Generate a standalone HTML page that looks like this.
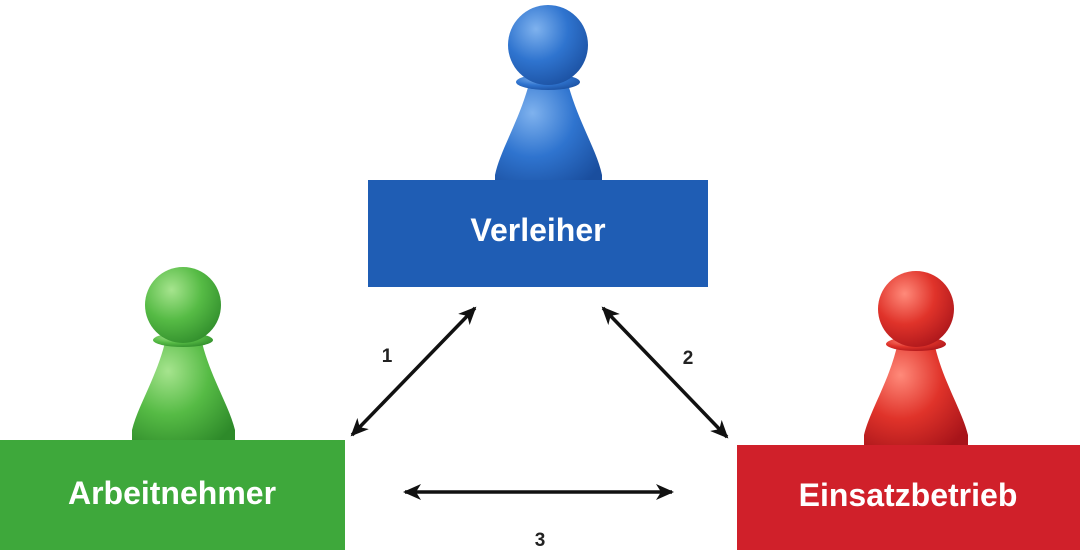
<!DOCTYPE html>
<html><head><meta charset="utf-8"><style>
html,body{margin:0;padding:0;background:#fff;width:1080px;height:550px;overflow:hidden}
svg{display:block}
text{font-family:"Liberation Sans","DejaVu Sans",sans-serif;font-weight:bold}
</style></head><body>
<svg width="1080" height="550" viewBox="0 0 1080 550" xmlns="http://www.w3.org/2000/svg">
<defs>
<radialGradient id="gb" cx="0.35" cy="0.3" r="0.8"><stop offset="0" stop-color="#7fb2ee"/><stop offset="0.5" stop-color="#2f74cf"/><stop offset="1" stop-color="#1a4e9e"/></radialGradient>
<radialGradient id="gg" cx="0.35" cy="0.3" r="0.8"><stop offset="0" stop-color="#a6e48e"/><stop offset="0.5" stop-color="#56bb45"/><stop offset="1" stop-color="#2e8a2a"/></radialGradient>
<radialGradient id="gr" cx="0.35" cy="0.3" r="0.8"><stop offset="0" stop-color="#ff8a7a"/><stop offset="0.5" stop-color="#e0332a"/><stop offset="1" stop-color="#a8141a"/></radialGradient>
<marker id="ah" markerWidth="18" markerHeight="16" refX="16" refY="8" orient="auto-start-reverse" markerUnits="userSpaceOnUse" viewBox="0 0 18 16">
<path d="M0,0 L18,8 L0,16 L5,8 Z" fill="#111"/></marker>
</defs>
<g fill="url(#gb)">
<path d="M530,80 C520,120 500,150 495,175 L495,190 L602,190 L602,175 C597,150 577,120 567,80 Z"/>
<ellipse cx="548" cy="82" rx="32" ry="8"/>
<circle cx="548" cy="45" r="40"/>
</g>
<rect x="368" y="180" width="340" height="107" fill="#1f5db4"/>
<text x="538" y="241" font-size="32" fill="#fff" text-anchor="middle">Verleiher</text>
<g fill="url(#gg)">
<path d="M166,338 C158,375 138,405 132,430 L132,448 L235,448 L235,430 C229,405 209,375 201,338 Z"/>
<ellipse cx="183" cy="340" rx="30" ry="7"/>
<circle cx="183" cy="305" r="38"/>
</g>
<rect x="0" y="440" width="345" height="110" fill="#3ea83b"/>
<text x="172" y="504" font-size="32" fill="#fff" text-anchor="middle">Arbeitnehmer</text>
<g fill="url(#gr)">
<path d="M898,342 C890,380 870,410 864,435 L864,452 L968,452 L968,435 C962,410 942,380 934,342 Z"/>
<ellipse cx="916" cy="344" rx="30" ry="7"/>
<circle cx="916" cy="309" r="38"/>
</g>
<rect x="737" y="445" width="343" height="105" fill="#d0202a"/>
<text x="908" y="506" font-size="32" fill="#fff" text-anchor="middle">Einsatzbetrieb</text>
<g stroke="#111" stroke-width="3.5" fill="none">
<line x1="352" y1="435" x2="475" y2="308" marker-start="url(#ah)" marker-end="url(#ah)"/>
<line x1="603" y1="308" x2="727" y2="437" marker-start="url(#ah)" marker-end="url(#ah)"/>
<line x1="405" y1="492" x2="672" y2="492" marker-start="url(#ah)" marker-end="url(#ah)"/>
</g>
<text x="387" y="362" font-size="19" fill="#222" text-anchor="middle">1</text>
<text x="688" y="364" font-size="19" fill="#222" text-anchor="middle">2</text>
<text x="540" y="546" font-size="19" fill="#222" text-anchor="middle">3</text>
</svg>
</body></html>
